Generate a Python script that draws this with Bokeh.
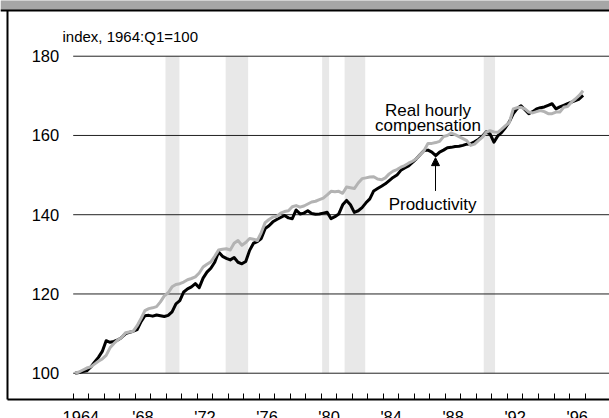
from bokeh.plotting import figure
from bokeh.models import (FixedTicker, LinearAxis, Range1d, Arrow, NormalHead,
                          ColumnDataSource)
from bokeh.core.properties import value
from bokeh.embed import file_html
from bokeh.resources import INLINE

# ---------------- data ----------------
start_year = 1964
years = list(range(1964, 1997))          # quarterly data 1964:Q1 .. 1996:Q4

productivity = [
    100.0, 100.2, 100.4, 100.6,   # 1964
    101.5, 102.8, 104.0, 105.5,   # 1965
    108.2, 107.8, 108.0, 108.4,   # 1966
    109.0, 110.0, 110.3, 110.6,   # 1967
    111.0, 113.0, 114.5, 114.6,   # 1968
    114.4, 114.7, 114.5, 114.3,   # 1969
    114.6, 115.5, 117.5, 118.3,   # 1970
    120.5, 121.3, 121.8, 122.6,   # 1971
    121.6, 124.0, 125.5, 126.5,   # 1972
    128.0, 130.6, 129.5, 129.0,   # 1973
    128.6, 129.2, 128.0, 127.6,   # 1974
    128.2, 131.0, 132.8, 133.2,   # 1975
    134.0, 136.5, 137.2, 138.2,   # 1976
    138.8, 139.3, 139.8, 139.2,   # 1977
    139.0, 141.2, 140.2, 140.4,   # 1978
    141.0, 140.3, 140.1, 140.2,   # 1979
    140.4, 140.6, 139.0, 139.5,   # 1980
    140.2, 142.5, 143.6, 142.5,   # 1981
    140.6, 141.0, 141.8, 143.0,   # 1982
    144.0, 146.0, 146.6, 147.2,   # 1983
    147.8, 148.6, 149.4, 150.0,   # 1984
    151.2, 151.8, 152.3, 153.2,   # 1985
    154.1, 155.2, 156.2, 156.3,   # 1986
    155.8, 154.9, 155.8, 156.3,   # 1987
    156.9, 157.0, 157.2, 157.3,   # 1988
    157.5, 157.8, 157.9, 158.4,   # 1989
    159.0, 159.8, 160.9, 160.4,   # 1990
    158.3, 159.9, 160.8, 162.0,   # 1991
    163.5, 165.5, 166.8, 167.5,   # 1992
    166.5, 165.5, 166.0, 166.7,   # 1993
    167.0, 167.2, 167.6, 168.0,   # 1994
    166.7, 167.2, 167.6, 168.0,   # 1995
    168.4, 168.8, 169.2, 170.1,   # 1996
]

compensation = [
    100.0, 100.3, 100.8, 101.3,   # 1964
    101.6, 102.3, 103.0, 103.6,   # 1965
    104.5, 106.4, 107.5, 108.4,   # 1966
    109.0, 110.2, 110.4, 110.6,   # 1967
    112.0, 113.8, 115.8, 116.3,   # 1968
    116.5, 116.8, 118.0, 119.5,   # 1969
    120.3, 121.8, 122.4, 122.6,   # 1970
    123.0, 123.6, 123.9, 124.3,   # 1971
    125.3, 126.8, 127.5, 128.1,   # 1972
    129.5, 131.1, 131.3, 131.4,   # 1973
    131.1, 132.8, 133.5, 132.3,   # 1974
    133.0, 134.0, 133.8, 133.5,   # 1975
    135.5, 138.0, 138.8, 139.4,   # 1976
    139.6, 140.4, 140.8, 141.0,   # 1977
    142.0, 142.3, 141.9, 142.2,   # 1978
    142.7, 143.2, 143.4, 143.8,   # 1979
    144.2, 145.0, 145.9, 145.8,   # 1980
    145.9, 145.4, 147.0, 146.8,   # 1981
    146.6, 148.0, 149.1, 149.3,   # 1982
    149.5, 149.6, 149.0, 148.8,   # 1983
    149.3, 150.3, 151.0, 151.4,   # 1984
    152.0, 152.4, 153.0, 153.5,   # 1985
    154.1, 155.2, 156.2, 158.0,   # 1986
    158.0, 158.2, 158.5, 159.7,   # 1987
    160.0, 160.6, 160.2, 159.7,   # 1988
    159.2, 158.7, 157.5, 157.8,   # 1989
    158.7, 159.5, 160.8, 161.2,   # 1990
    160.9, 160.8, 161.6, 162.5,   # 1991
    163.3, 166.7, 167.0, 167.1,   # 1992
    166.7, 165.9, 165.7, 166.0,   # 1993
    166.3, 166.0, 165.5, 165.5,   # 1994
    165.9, 165.9, 167.1, 167.3,   # 1995
    168.4, 169.2, 170.1, 171.3,   # 1996
]

recession_start = [1969.95, 1973.83, 1980.05, 1981.50, 1990.47]
recession_end = [1970.85, 1975.28, 1980.50, 1982.83, 1991.20]

y_ticks = [100, 120, 140, 160, 180]
x_label_years = [1964, 1968, 1972, 1976, 1980, 1984, 1988, 1992, 1996]
x_labels = ["1964", "'68", "'72", "'76", "'80", "'84", "'88", "'92", "'96"]
tick_years = list(range(1964, 1998))

# ---------------- figure ----------------
X0, X1 = 1959.313, 1998.578
Y0, Y1 = 88.57, 194.06
AXIS_Y = 93.36
TOP_Y = 191.53
LEFT_X = 1959.764
FONT = "Liberation Sans"

p = figure(width=609, height=418, output_backend="svg", toolbar_location=None,
           x_axis_location=None, y_axis_location=None,
           x_range=Range1d(X0, X1), y_range=Range1d(Y0, Y1),
           min_border=0, min_border_left=0, min_border_right=0,
           min_border_top=0, min_border_bottom=0,
           background_fill_color="white", border_fill_color="white")
p.outline_line_color = None
p.grid.visible = False

# title strip at top and frame border
p.quad(left=[X0], right=[X1], bottom=[TOP_Y], top=[Y1 + 2], fill_color="#a6a6a6", line_color=None)
p.segment(x0=[X0], x1=[X1], y0=[TOP_Y], y1=[TOP_Y], line_color="black", line_width=2)
p.segment(x0=[LEFT_X], x1=[LEFT_X], y0=[TOP_Y], y1=[AXIS_Y], line_color="black", line_width=2)

# recession shading
p.quad(left=recession_start, right=recession_end, bottom=[y_ticks[0]] * len(recession_start),
       top=[y_ticks[-1]] * len(recession_start), fill_color="#e8e8e8", line_color=None)

# grid lines
p.segment(x0=[start_year] * len(y_ticks), x1=[X1] * len(y_ticks), y0=y_ticks, y1=y_ticks,
          line_color="#222222", line_width=1)

# series
xq = [y + (q + 0.5) / 4 for y in years for q in range(4)]
src = ColumnDataSource(dict(x=xq, prod=productivity, comp=compensation))
p.line("x", "prod", source=src, line_color="black", line_width=3, line_join="round")
p.line("x", "comp", source=src, line_color="#b3b3b3", line_width=3, line_join="round")

# axes
xax = LinearAxis(fixed_location=AXIS_Y, bounds=(LEFT_X, X1),
                 ticker=FixedTicker(ticks=[y + 0.5 for y in x_label_years], minor_ticks=tick_years),
                 major_label_overrides={y + 0.5: lab for y, lab in zip(x_label_years, x_labels)})
xax.axis_line_color = "black"
xax.axis_line_width = 2
xax.major_tick_in = 0
xax.major_tick_out = 0
xax.major_tick_line_color = None
xax.minor_tick_in = 6
xax.minor_tick_out = 0
xax.minor_tick_line_color = "black"
xax.minor_tick_line_width = 1
xax.major_label_standoff = 8
xax.major_label_text_font = FONT
xax.major_label_text_font_size = "16.5px"
xax.major_label_text_color = "black"
p.add_layout(xax, "below")

yax = LinearAxis(fixed_location=start_year, ticker=FixedTicker(ticks=y_ticks))
yax.axis_line_color = None
yax.major_tick_line_color = None
yax.minor_tick_line_color = None
yax.major_tick_in = 0
yax.major_tick_out = 0
yax.major_label_standoff = 14
yax.major_label_text_font = FONT
yax.major_label_text_font_size = "16.5px"
yax.major_label_text_color = "black"
p.add_layout(yax, "left")

# annotations
p.text(x=[1963.31], y=[184.85], text=["index, 1964:Q1=100"], text_font=value(FONT),
       text_font_size="15px", text_align="left", text_baseline="alphabetic", text_color="black")
p.text(x=[1986.875, 1986.875], y=[166.3, 162.5], text=["Real hourly", "compensation"],
       text_font=value(FONT), text_font_size="17px", text_align="center",
       text_baseline="alphabetic", text_color="black")
p.text(x=[1987.17], y=[142.65], text=["Productivity"], text_font=value(FONT),
       text_font_size="17px", text_align="center", text_baseline="alphabetic", text_color="black")
p.add_layout(Arrow(end=NormalHead(size=8, fill_color="black", line_color="black"),
                   x_start=1987.36, y_start=146.0, x_end=1987.36, y_end=154.4,
                   line_color="black", line_width=1))

open("out.html", "w").write(file_html(p, INLINE))
